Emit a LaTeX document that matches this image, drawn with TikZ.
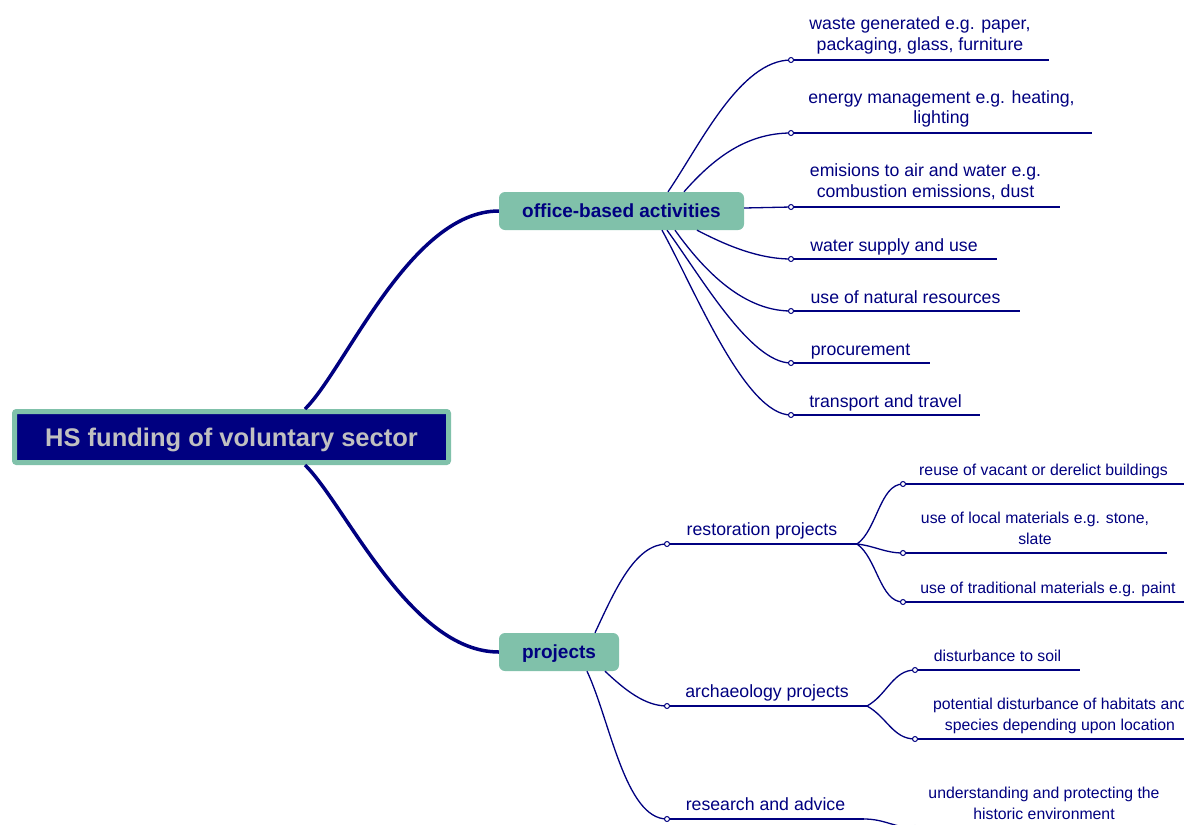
\documentclass[tikz,border=0pt]{standalone}
\usepackage{fontspec}
\setmainfont{Liberation Sans}
\usetikzlibrary{calc}
\definecolor{navyc}{RGB}{0,0,128}
\definecolor{tealbox}{RGB}{128,193,170}
\definecolor{silverc}{RGB}{192,192,192}
\newcommand\leafitem[7]{%
  \coordinate (#1) at (#2,#3);
  \coordinate (#1e) at (#4,#3);
  \node[#5, anchor=base] (#1t) at ($(#1)!0.5!(#1e)+(0,-#6)$) {#7};
  \draw[thinline] (#1) -- (#1e);
}
\begin{document}
\begin{tikzpicture}[x=1pt,y=-1pt,
  mainbox/.style={draw=tealbox, fill=navyc, line width=5pt, rounded corners=2pt,
    minimum width=434pt, minimum height=51pt, inner sep=0pt,
    text height=18.4pt, text depth=0pt,
    text=silverc, font=\fontsize{25.5}{30}\selectfont\bfseries},
  branchbox/.style={fill=tealbox, draw=none, rounded corners=6pt, minimum height=38pt,
    inner sep=0pt, text height=13.7pt, text depth=0pt,
    text=navyc, font=\fontsize{19}{23}\selectfont\bfseries},
  leafA/.style={inner sep=0pt, align=center, text=navyc, font=\fontsize{17.7}{20.5}\selectfont},
  leafB/.style={inner sep=0pt, align=center, text=navyc, font=\fontsize{15.8}{20.5}\selectfont},
  thinline/.style={draw=navyc, line width=1.3pt},
  thickline/.style={draw=navyc, line width=3.5pt},
  dot/.style={draw=navyc, fill=white, line width=1pt}
]
\useasboundingbox (0,0) rectangle (1184,825);
\fill[white] (0,0) rectangle (1184,825);

% main nodes
\node[mainbox] (hs) at (231.5,437) {HS funding of voluntary sector};
\node[branchbox, minimum width=245pt] (off) at (621.5,211) {office-based activities};
\node[branchbox, minimum width=120pt] (proj) at (559,652) {projects};

% thick connectors
\draw[thickline] ([xshift=73.5]hs.north) .. controls (345,370) and (410,211) .. (off.west);
\draw[thickline] ([xshift=73.5]hs.south) .. controls (345,504) and (410,652) .. (proj.west);

% office leaves
\leafitem{w}{791}{60}{1049}{leafA}{10}{waste generated e.g. paper,\\packaging, glass, furniture}
\leafitem{en}{791}{133}{1092}{leafA}{9.5}{energy management e.g. heating,\\lighting}
\leafitem{em}{791}{207}{1060}{leafA}{10}{emisions to air and water e.g.\\combustion emissions, dust}
\leafitem{wa}{791}{259}{997}{leafA}{8}{water supply and use}
\leafitem{nr}{791}{311}{1020}{leafA}{8}{use of natural resources}
\leafitem{pr}{791}{363}{930}{leafA}{8}{procurement}
\leafitem{tr}{791}{415}{980}{leafA}{8}{transport and travel}

\draw[thinline] ([xshift=46.5]off.north) .. controls (700,145) and (740,60) .. (w);
\draw[thinline] ([xshift=62.5]off.north) .. controls (712,160) and (745,133) .. (en);
\draw[thinline] ([yshift=3]off.east) -- (em);
\draw[thinline] ([xshift=75.5]off.south) .. controls (720,242) and (755,259) .. (wa);
\draw[thinline] ([xshift=53.5]off.south) .. controls (700,265) and (740,311) .. (nr);
\draw[thinline] ([xshift=45.5]off.south) .. controls (700,275) and (750,363) .. (pr);
\draw[thinline] ([xshift=40.5]off.south) .. controls (695,290) and (745,415) .. (tr);

% projects children
\leafitem{rp}{667}{544}{857}{leafA}{9}{restoration projects}
\leafitem{ap}{667}{706}{867}{leafA}{9}{archaeology projects}
\leafitem{ra}{667}{819}{864}{leafA}{9}{research and advice}

\draw[thinline] ([xshift=36]proj.north) .. controls (615,590) and (635,544) .. (rp);
\draw[thinline] ([xshift=46]proj.south) .. controls (625,690) and (645,706) .. (ap);
\draw[thinline] ([xshift=28]proj.south) .. controls (610,720) and (625,819) .. (ra);

% grandchildren
\leafitem{ru}{903}{484}{1184}{leafB}{9}{reuse of vacant or derelict buildings}
\leafitem{lm}{903}{553}{1167}{leafB}{9}{use of local materials e.g. stone,\\slate}
\leafitem{tm}{903}{602}{1193}{leafB}{9}{use of traditional materials e.g. paint}
\leafitem{ds}{915}{670}{1080}{leafB}{9}{disturbance to soil}
\leafitem{pd}{915}{739}{1205}{leafB}{9}{potential disturbance of habitats and\\species depending upon location}
\leafitem{up}{915}{828}{1173}{leafB}{9}{understanding and protecting the\\historic environment}

\draw[thinline] (rpe) .. controls (877,530) and (880,484) .. (ru);
\draw[thinline] (rpe) .. controls (875,546) and (885,553) .. (lm);
\draw[thinline] (rpe) .. controls (877,558) and (880,602) .. (tm);
\draw[thinline] (ape) .. controls (887,695) and (893,670) .. (ds);
\draw[thinline] (ape) .. controls (887,717) and (893,739) .. (pd);
\draw[thinline] (rae) .. controls (885,819) and (895,828) .. (up);

% small circles
\foreach \c in {w,en,em,wa,nr,pr,tr,rp,ap,ra,ru,lm,tm,ds,pd,up}
  \draw[dot] (\c) circle (2.5pt);
\end{tikzpicture}
\end{document}
